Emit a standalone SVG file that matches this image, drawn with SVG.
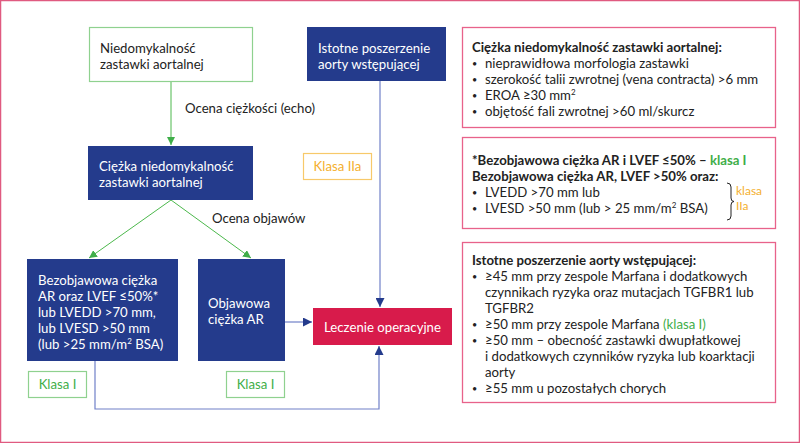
<svg xmlns="http://www.w3.org/2000/svg" width="800" height="443" viewBox="0 0 800 443">
<defs>
<style>
text{font-family:Lato,"Open Sans","Liberation Sans",sans-serif;font-size:13.2px;fill:#222}
.w{fill:#fff}
.g{fill:#3fae49}
.o{fill:#f4b030}
.b{font-weight:bold}
.bu{font-size:9px}
.sm{font-size:12px}
.dark{fill:#243b8c}
.red{fill:#d81b4b}
.gbox{fill:#fff;stroke:#8fd18f;stroke-width:1.2}
.obox{fill:#fff;stroke:#f7c96a;stroke-width:1.2}
.pbox{fill:#fff;stroke:#e8628a;stroke-width:1.3}
.gl{stroke:#4cb84c;stroke-width:1;fill:none}
.bl{stroke:#7080c8;stroke-width:1.2;fill:none}
</style>
<marker id="ag" viewBox="0 0 10 10" refX="10" refY="5" markerWidth="8" markerHeight="8" orient="auto" markerUnits="userSpaceOnUse"><path d="M0,0L10,5L0,10z" fill="#3fae49"/></marker>
<marker id="ab" viewBox="0 0 10 10" refX="10" refY="5" markerWidth="9" markerHeight="9" orient="auto" markerUnits="userSpaceOnUse"><path d="M0,0L10,5L0,10z" fill="#243b8c"/></marker>
</defs>
<rect x="0.5" y="0.5" width="799" height="442" fill="#fff" stroke="#e05a80" stroke-width="1.5"/>

<g id="connectors">
<line class="gl" x1="171" y1="81" x2="171" y2="145" marker-end="url(#ag)"/>
<line class="gl" x1="171" y1="200" x2="89" y2="258" marker-end="url(#ag)"/>
<line class="gl" x1="171" y1="200" x2="251" y2="258" marker-end="url(#ag)"/>
<line class="bl" x1="380" y1="81" x2="380" y2="307" marker-end="url(#ab)"/>
<line class="bl" x1="285" y1="322" x2="312" y2="322" marker-end="url(#ab)"/>
<polyline class="bl" points="95,361 95,409 379,409 379,346" marker-end="url(#ab)"/>
<text x="185" y="113">Ocena ciężkości (echo)</text>
<text x="212" y="223">Ocena objawów</text>
</g>

<g id="n1">
<rect class="gbox" x="89.5" y="27.5" width="163" height="54"/>
<text x="100" y="53">Niedomykalność</text>
<text x="100" y="69">zastawki aortalnej</text>
</g>
<g id="n2">
<rect class="dark" x="88" y="146" width="165" height="54"/>
<text class="w" x="99" y="171">Ciężka niedomykalność</text>
<text class="w" x="99" y="187">zastawki aortalnej</text>
</g>
<g id="n3">
<rect class="dark" x="307" y="27" width="139" height="54"/>
<text class="w" x="318" y="53">Istotne poszerzenie</text>
<text class="w" x="318" y="69">aorty wstępującej</text>
</g>
<g id="k1">
<rect class="obox" x="303.5" y="153.5" width="68" height="26"/>
<text class="o" x="337.5" y="171" text-anchor="middle">Klasa IIa</text>
</g>
<g id="n4">
<rect class="dark" x="27" y="259" width="151" height="102"/>
<text class="w" x="38" y="285">Bezobjawowa ciężka</text>
<text class="w" x="38" y="301">AR oraz LVEF ≤50%*</text>
<text class="w" x="38" y="317">lub LVEDD &gt;70 mm,</text>
<text class="w" x="38" y="333">lub LVESD &gt;50 mm</text>
<text class="w" x="38" y="349">(lub &gt;25 mm/m<tspan font-size="8" dy="-5">2</tspan><tspan dy="5"> BSA)</tspan></text>
</g>
<g id="n5">
<rect class="dark" x="198" y="259" width="87" height="102"/>
<text class="w" x="208" y="308">Objawowa</text>
<text class="w" x="208" y="324">ciężka AR</text>
</g>
<g id="n6">
<rect class="red" x="313" y="308" width="139" height="37"/>
<text class="w" x="382.5" y="332" text-anchor="middle">Leczenie operacyjne</text>
</g>
<g id="k2">
<rect class="gbox" x="28.5" y="371.5" width="58" height="26"/>
<text class="g" x="57.5" y="389" text-anchor="middle">Klasa I</text>
</g>
<g id="k3">
<rect class="gbox" x="226.5" y="371.5" width="58" height="26"/>
<text class="g" x="255.5" y="389" text-anchor="middle">Klasa I</text>
</g>

<g id="boxA">
<rect class="pbox" x="462.5" y="27.5" width="313" height="100"/>
<text class="b" x="472" y="52">Ciężka niedomykalność zastawki aortalnej:</text>
<text class="bu" x="472" y="67">•</text><text x="485" y="68">nieprawidłowa morfologia zastawki</text>
<text class="bu" x="472" y="83">•</text><text x="485" y="84">szerokość talii zwrotnej (vena contracta) &gt;6 mm</text>
<text class="bu" x="472" y="99">•</text><text x="485" y="100">EROA ≥30 mm<tspan font-size="8" dy="-5">2</tspan></text>
<text class="bu" x="472" y="115">•</text><text x="485" y="116">objętość fali zwrotnej &gt;60 ml/skurcz</text>
</g>
<g id="boxB">
<rect class="pbox" x="462.5" y="137.5" width="313" height="91"/>
<text class="b" x="472" y="165">*Bezobjawowa ciężka AR i LVEF ≤50% – <tspan class="g">klasa I</tspan></text>
<text class="b" x="472" y="181">Bezobjawowa ciężka AR, LVEF &gt;50% oraz:</text>
<text class="bu" x="472" y="196">•</text><text x="485" y="197">LVEDD &gt;70 mm lub</text>
<text class="bu" x="472" y="212">•</text><text x="485" y="213">LVESD &gt;50 mm (lub &gt; 25 mm/m<tspan font-size="8" dy="-5">2</tspan><tspan dy="5"> BSA)</tspan></text>
<path d="M727,183 Q731,183 731,187 L731,198 Q731,201.5 734,201.5 Q731,201.5 731,205 L731,216 Q731,220 727,220" fill="none" stroke="#222" stroke-width="1"/>
<text class="o sm" x="736" y="195">klasa</text>
<text class="o sm" x="736" y="209.5">IIa</text>
</g>
<g id="boxC">
<rect class="pbox" x="462.5" y="242.5" width="313" height="160"/>
<text class="b" x="472" y="265">Istotne poszerzenie aorty wstępującej:</text>
<text class="bu" x="472" y="280">•</text><text x="485" y="281">≥45 mm przy zespole Marfana i dodatkowych</text>
<text x="485" y="297">czynnikach ryzyka oraz mutacjach TGFBR1 lub</text>
<text x="485" y="313">TGFBR2</text>
<text class="bu" x="472" y="328">•</text><text x="485" y="329">≥50 mm przy zespole Marfana <tspan class="g">(klasa I)</tspan></text>
<text class="bu" x="472" y="344">•</text><text x="485" y="345">≥50 mm – obecność zastawki dwupłatkowej</text>
<text x="485" y="361">i dodatkowych czynników ryzyka lub koarktacji</text>
<text x="485" y="377">aorty</text>
<text class="bu" x="472" y="392">•</text><text x="485" y="393">≥55 mm u pozostałych chorych</text>
</g>
</svg>
